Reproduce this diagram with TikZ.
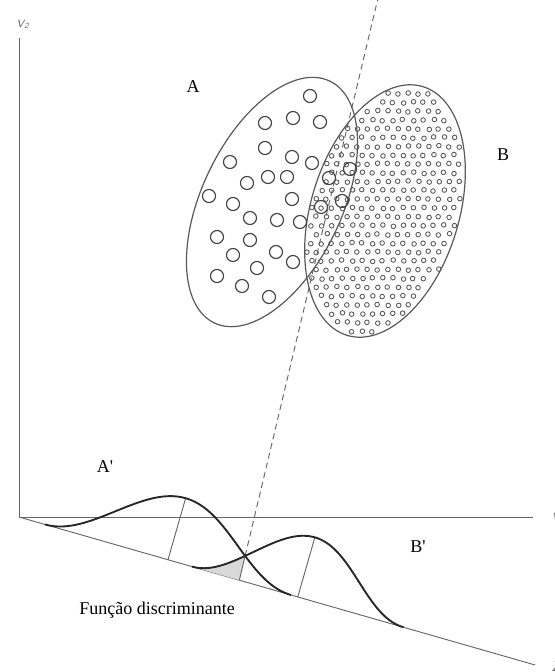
\documentclass[tikz,border=0pt]{standalone}
\usepackage{fontspec}
\setmainfont{Liberation Serif}
\usetikzlibrary{calc,intersections}

\begin{document}
\begin{tikzpicture}[x=0.75pt,y=-0.75pt,
    axis/.style={draw=black!60,line width=0.7pt},
    blob/.style={draw=black!65,line width=0.9pt},
    bigdot/.style={draw=black!75,line width=0.85pt},
    smalldot/.style={draw=black!65,line width=0.65pt},
    bell/.style={draw=black!85,line width=1.4pt},
    lbl/.style={font=\fontsize{13.5}{16}\selectfont,anchor=base},
    axlbl/.style={font=\sffamily\itshape\fontsize{11}{13}\selectfont,text=black!60,anchor=base west}]
                \useasboundingbox (0,0) rectangle (555,672);
                \coordinate (O) at (19,517);
                \coordinate (V2) at (19,38);
                \coordinate (V1) at (533,517);
                \draw[axis] (O) -- (V2);
                \draw[axis] (O) -- (V1);
                \node[axlbl,font=\sffamily\itshape\fontsize{8}{10}\selectfont] (v2lbl) at (12,27) {V\textsubscript{2}};
                \node[axlbl] (v1lbl) at (547,523) {V\textsubscript{1}};
                \node[axlbl] (zlbl) at (547,671) {Z};
                \begin{scope}[shift={(O)},rotate=-16,x=0.75pt,y=0.75pt]
                    \coordinate (Zend) at (537,0);
                    \draw[axis,name path global=zaxis] (0,0) -- (Zend);
                    \coordinate (Apk) at (155,64); \coordinate (Aft) at (155,0);
                    \coordinate (Bpk) at (290,62); \coordinate (Bft) at (290,0);
                    \path[name path global=curveA] plot[domain=27:283,samples=90] (\x,{32*(1+cos(1.40625*(\x-155)))});
                    \path[name path global=curveB] plot[domain=180:400,samples=90] (\x,{31*(1+cos(1.63636*(\x-290)))});
                \end{scope}
                \path[name intersections={of=curveA and curveB,by=X}];
                \path[name path=dline] ($(X)+(-76.6:40)$) -- ($(X)+(103.4:80)$);
                \path[name intersections={of=dline and zaxis,by=F}];
                \begin{scope}
                    \clip ($(X)!-1!(F)$) -- ($(F)!-1!(X)$) -- ++(-120,0) -- ++(0,-120) -- cycle;
                    \fill[black!15,shift={(O)},rotate=-16,x=0.75pt,y=0.75pt] plot[domain=180:290,samples=60] (\x,{31*(1+cos(1.63636*(\x-290)))}) -- (290,0) -- cycle;
                \end{scope}
                \draw[axis] (Aft) -- (Apk);
                \draw[axis] (Bft) -- (Bpk);
                \draw[axis] (X) -- (F);
                \draw[axis,dash pattern=on 4.5pt off 3pt] (X) -- ($(X)+(-76.6:620)$);
                \begin{scope}[shift={(O)},rotate=-16,x=0.75pt,y=0.75pt]
                    \draw[bell] plot[domain=27:283,samples=90] (\x,{32*(1+cos(1.40625*(\x-155)))});
                    \draw[bell] plot[domain=180:400,samples=90] (\x,{31*(1+cos(1.63636*(\x-290)))});
                \end{scope}
                \pgfmathsetseed{7}
                \foreach \j in {0,...,31}{
                    \foreach \i in {0,...,18}{
                        \pgfmathsetmacro{\px}{296+10.2*\i+5.1*mod(\j,2)+1.6*rnd-0.8}
                        \pgfmathsetmacro{\py}{76+8.8*\j+1.6*rnd-0.8}
                        \pgfmathsetmacro{\inside}{(((\px-385)*cos(73)-(\py-211)*sin(73))/130)^2+((-(\px-385)*sin(73)-(\py-211)*cos(73))/74)^2}
                        \ifdim\inside pt<0.95pt \draw[smalldot] (\px,\py) circle[radius=2.3]; \fi
                    }
                }
                \draw[blob,rotate around={73:(385,211)}] (385,211) ellipse [x radius=130,y radius=74];
                \draw[blob,rotate around={64.5:(272,202)}] (272,202) ellipse [x radius=134,y radius=70];
                \foreach \p in {(310,96),(265,123),(293,118),(320,122),(265,148),(292,157),(312,163),(230,162),
                    (247,183),(268,177),(287,177),(209,196),(233,204),(292,199),(250,218),(277,220),(300,222),
                    (217,237),(250,240),(233,255),(276,252),(293,262),(217,276),(257,268),(242,286),(269,297),
                    (350,169),(329,178),(342,201),(321,207)}
                    \draw[bigdot] \p circle[radius=6.5];
                \node[lbl] (labA) at (193,92) {A};
                \node[lbl] (labB) at (503,160) {B};
                \node[lbl] (labAp) at (105,472) {A\textquotesingle};
                \node[lbl] (labBp) at (418,552) {B\textquotesingle};
                \node[lbl] (disc) at (157,614) {Função discriminante};
            \end{tikzpicture}
\end{document}
